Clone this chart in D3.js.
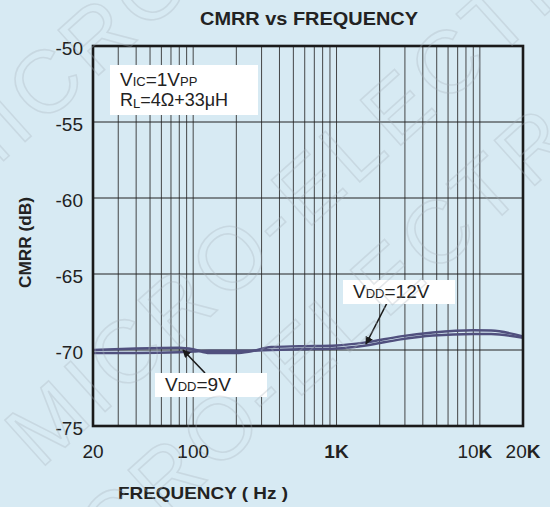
<!DOCTYPE html>
<html>
<head>
<meta charset="utf-8">
<script src="https://cdn.jsdelivr.net/npm/d3@7"></script>
<style>
  body { margin: 0; background: #d7eaf3; }
  svg { display: block; font-family: "Liberation Sans", Arial, sans-serif; }
</style>
</head>
<body>
<script>
var w = 550, h = 507;

// frequency (Hz) and CMRR (dB)
var freqA = [20, 40, 80, 100, 130, 200, 250, 350, 550, 1000, 1600, 2800, 4700, 9000, 12000, 20000];
var vdd12 = [-70.0, -69.9, -69.85, -69.95, -70.2, -70.2, -70.1, -69.8, -69.75, -69.7, -69.5, -69.1, -68.85, -68.7, -68.72, -69.1];
var freqB = [20, 40, 80, 100, 130, 200, 250, 350, 550, 1000, 1600, 2800, 4700, 9000, 12000, 20000];
var vdd9 = [-70.2, -70.2, -70.15, -70.1, -70.05, -70.05, -70.05, -70.0, -69.95, -69.9, -69.7, -69.3, -69.05, -68.95, -68.95, -69.2];

var yTicks = [-50, -55, -60, -65, -70, -75];
var xTickVals = [20, 100, 1000, 10000, 20000];
var xTickLabels = [["20", ""], ["100", ""], ["", "1K"], ["10", "K"], ["20", "K"]];

var x = d3.scaleLog().domain([20, 20000]).range([93, 523]);
var y = d3.scaleLinear().domain([-50, -75]).range([46, 426]);

var svg = d3.select('body').append('svg')
  .attr('width', w)
  .attr('height', h);

// minor log grid: 30..90, 200..900 etc.
var gridF = [];
[10, 100, 1000, 10000].forEach(function(dec) {
  for (var k = 1; k <= 9; k++) {
    var f = dec * k;
    if (f > 20 && f < 20000) gridF.push(f);
  }
});

svg.append('g').selectAll('line')
  .data(gridF)
  .enter().append('line')
  .attr('x1', function(d) { return x(d); })
  .attr('x2', function(d) { return x(d); })
  .attr('y1', y(-50))
  .attr('y2', y(-75))
  .attr('stroke', '#333')
  .attr('stroke-width', 0.9);

svg.append('g').selectAll('line')
  .data(yTicks.slice(1, -1))
  .enter().append('line')
  .attr('x1', x(20))
  .attr('x2', x(20000))
  .attr('y1', function(d) { return y(d); })
  .attr('y2', function(d) { return y(d); })
  .attr('stroke', '#222')
  .attr('stroke-width', 1);

// curves
var line = d3.line().curve(d3.curveMonotoneX);
function drawSeries(fs, vs) {
  svg.append('path')
    .attr('d', line(fs.map(function(f, i) { return [x(f), y(vs[i])]; })))
    .attr('fill', 'none')
    .attr('stroke', '#50507e')
    .attr('stroke-width', 2.4);
}
drawSeries(freqA, vdd12);
drawSeries(freqB, vdd9);

// frame
svg.append('rect')
  .attr('x', x(20))
  .attr('y', y(-50))
  .attr('width', x(20000) - x(20))
  .attr('height', y(-75) - y(-50))
  .attr('fill', 'none')
  .attr('stroke', '#1a1a1a')
  .attr('stroke-width', 2.6);

// y tick labels
svg.append('g').selectAll('text')
  .data(yTicks)
  .enter().append('text')
  .attr('x', 83)
  .attr('y', function(d) { return y(d) + 9; })
  .attr('text-anchor', 'end')
  .attr('font-size', 19)
  .attr('fill', '#222')
  .text(function(d) { return d; });

// x tick labels
var xl = svg.append('g').selectAll('text')
  .data(xTickVals)
  .enter().append('text')
  .attr('x', function(d, i) { return i == 3 ? x(d) - 5 : x(d); })
  .attr('y', 458)
  .attr('text-anchor', 'middle')
  .attr('font-size', 19)
  .attr('fill', '#222');
xl.append('tspan').text(function(d, i) { return xTickLabels[i][0]; });
xl.append('tspan').attr('font-weight', 'bold').text(function(d, i) { return xTickLabels[i][1]; });

// titles
svg.append('text')
  .attr('x', 200).attr('y', 25)
  .attr('textLength', 218).attr('lengthAdjust', 'spacingAndGlyphs')
  .attr('font-size', 18).attr('font-weight', 'bold').attr('fill', '#222')
  .text('CMRR vs FREQUENCY');

svg.append('text')
  .attr('x', 118).attr('y', 499)
  .attr('textLength', 170).attr('lengthAdjust', 'spacingAndGlyphs')
  .attr('font-size', 17).attr('font-weight', 'bold').attr('fill', '#222')
  .text('FREQUENCY ( Hz )');

svg.append('text')
  .attr('transform', 'translate(31,288) rotate(-90)')
  .attr('textLength', 91).attr('lengthAdjust', 'spacingAndGlyphs')
  .attr('font-size', 17).attr('font-weight', 'bold').attr('fill', '#222')
  .text('CMRR (dB)');

// annotation boxes
svg.append('rect').attr('x', 110).attr('y', 65).attr('width', 148).attr('height', 50).attr('fill', '#fff');
var t1 = svg.append('text').attr('x', 120).attr('y', 86).attr('font-size', 19).attr('fill', '#222');
t1.append('tspan').text('V');
t1.append('tspan').attr('font-size', 13).text('IC');
t1.append('tspan').text('=1V');
t1.append('tspan').attr('font-size', 13).text('PP');
var t2 = svg.append('text').attr('x', 120).attr('y', 106).attr('font-size', 18).attr('fill', '#222');
t2.append('tspan').text('R');
t2.append('tspan').attr('font-size', 13).attr('dy', 2).text('L');
t2.append('tspan').attr('dy', -2).text('=4Ω+33μH');

svg.append('defs').append('marker')
  .attr('id', 'ah')
  .attr('viewBox', '0 0 10 10')
  .attr('refX', 9).attr('refY', 5)
  .attr('markerWidth', 5).attr('markerHeight', 5)
  .attr('orient', 'auto')
  .append('path').attr('d', 'M0,0L10,5L0,10z').attr('fill', '#1a1a1a');

function note(bx, by, bw, label, sub, rest, ax1, ay1, ax2, ay2) {
  svg.append('line')
    .attr('x1', ax1).attr('y1', ay1).attr('x2', ax2).attr('y2', ay2)
    .attr('stroke', '#1a1a1a').attr('stroke-width', 1.6)
    .attr('marker-end', 'url(#ah)');
  svg.append('rect').attr('x', bx).attr('y', by).attr('width', bw).attr('height', 24).attr('fill', '#fff');
  var t = svg.append('text').attr('x', bx + 10).attr('y', by + 18).attr('font-size', 19).attr('fill', '#222');
  t.append('tspan').text(label);
  t.append('tspan').attr('font-size', 13).text(sub);
  t.append('tspan').text(rest);
}
note(343, 280, 112, 'V', 'DD', '=12V', 387, 303, 366, 344);
note(155, 373, 112, 'V', 'DD', '=9V', 205, 373, 183, 350);

// watermark
var wm = svg.append('g')
  .attr('fill', 'none')
  .attr('stroke', '#a4b0b8')
  .attr('stroke-opacity', 0.3)
  .attr('stroke-width', 1.6)
  .attr('letter-spacing', 6)
  .attr('font-size', 88);
[[-40, 200], [40, 470], [30, 640]].forEach(function(p) {
  wm.append('text')
    .attr('transform', 'translate(' + p[0] + ',' + p[1] + ') rotate(-42)')
    .text('MICRO-ELECTRONICS CHIP');
});
</script>
</body>
</html>
